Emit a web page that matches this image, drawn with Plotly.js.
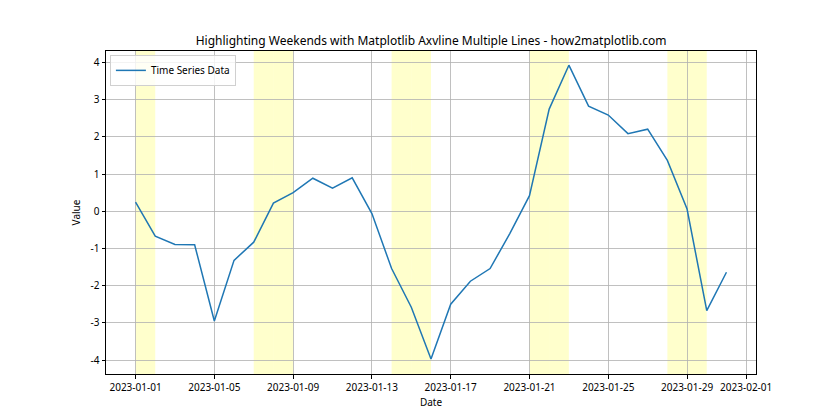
<!DOCTYPE html>
<html>
<head>
<meta charset="utf-8">
<script src="https://cdn.plot.ly/plotly-3.0.1.min.js"></script>
<style>html,body{margin:0;padding:0;background:#fff;}#chart{width:840px;height:420px;}</style>
</head>
<body>
<div id="chart"></div>
<script>
const dates = ['2023-01-01','2023-01-02','2023-01-03','2023-01-04','2023-01-05','2023-01-06','2023-01-07','2023-01-08','2023-01-09','2023-01-10','2023-01-11','2023-01-12','2023-01-13','2023-01-14','2023-01-15','2023-01-16','2023-01-17','2023-01-18','2023-01-19','2023-01-20','2023-01-21','2023-01-22','2023-01-23','2023-01-24','2023-01-25','2023-01-26','2023-01-27','2023-01-28','2023-01-29','2023-01-30','2023-01-31'];
const values = [0.25,-0.67,-0.89,-0.90,-2.95,-1.32,-0.83,0.22,0.50,0.89,0.62,0.90,-0.06,-1.54,-2.58,-3.97,-2.50,-1.88,-1.54,-0.60,0.42,2.75,3.93,2.83,2.59,2.09,2.21,1.37,0.06,-2.67,-1.64];
const weekendDays = ['2023-01-01','2023-01-07','2023-01-08','2023-01-14','2023-01-15','2023-01-21','2023-01-22','2023-01-28','2023-01-29'];
const xTickVals = ['2023-01-01','2023-01-05','2023-01-09','2023-01-13','2023-01-17','2023-01-21','2023-01-25','2023-01-29','2023-02-01'];
const yTickVals = [-4,-3,-2,-1,0,1,2,3,4];
const yTickText = ['-4','-3','-2','-1','0','1','2','3','4'];

function nextDay(d){const t=new Date(d+'T00:00:00Z');t.setUTCDate(t.getUTCDate()+1);return t.toISOString().slice(0,10);}
const shapes = weekendDays.map(d=>({type:'rect',xref:'x',yref:'paper',x0:d,x1:nextDay(d),y0:0,y1:1,fillcolor:'rgba(255,255,0,0.2)',line:{width:0},layer:'below'}));

const font = {family:'"Segoe UI","Noto Sans","Open Sans",sans-serif',size:10,color:'#000'};
const trace = {x:dates,y:values,type:'scatter',mode:'lines',name:'Time Series Data',line:{color:'#1f77b4',width:1.5}};
const layout = {
  width:840,height:420,
  margin:{l:106,r:84,t:51,b:46},
  paper_bgcolor:'#fff',plot_bgcolor:'rgba(0,0,0,0)',
  font:font,
  title:{text:'Highlighting Weekends with Matplotlib Axvline Multiple Lines - how2matplotlib.com',font:{family:font.family,size:12,color:'#000'},x:0.5132,xanchor:'center',y:1,yref:'paper',yanchor:'bottom',pad:{b:6}},
  xaxis:{type:'date',range:['2022-12-30 12:00','2023-02-01 12:00'],tickvals:xTickVals,ticktext:xTickVals,tickmode:'array',
    showgrid:true,gridcolor:'#b0b0b0',gridwidth:0.8,ticks:'outside',ticklen:3.5,tickcolor:'#000',
    showline:true,linecolor:'#000',linewidth:1,mirror:true,zeroline:false,
    title:{text:'Date',font:{family:font.family,size:10,color:'#000'},standoff:6}},
  yaxis:{range:[-4.376,4.312],tickvals:yTickVals,ticktext:yTickText,tickmode:'array',
    showgrid:true,gridcolor:'#b0b0b0',gridwidth:0.8,ticks:'outside',ticklen:3.5,tickcolor:'#000',
    showline:true,linecolor:'#000',linewidth:1,mirror:true,zeroline:false,
    title:{text:'Value',font:{family:font.family,size:10,color:'#000'},standoff:8}},
  shapes:shapes,
  showlegend:true,
  legend:{x:0.006,y:0.988,xanchor:'left',yanchor:'top',itemwidth:30,bgcolor:'rgba(255,255,255,0.8)',bordercolor:'#d0d0d0',borderwidth:1,font:{family:font.family,size:10,color:'#000'}}
};
Plotly.newPlot('chart',[trace],layout,{displayModeBar:false,staticPlot:true});
</script>
</body>
</html>
